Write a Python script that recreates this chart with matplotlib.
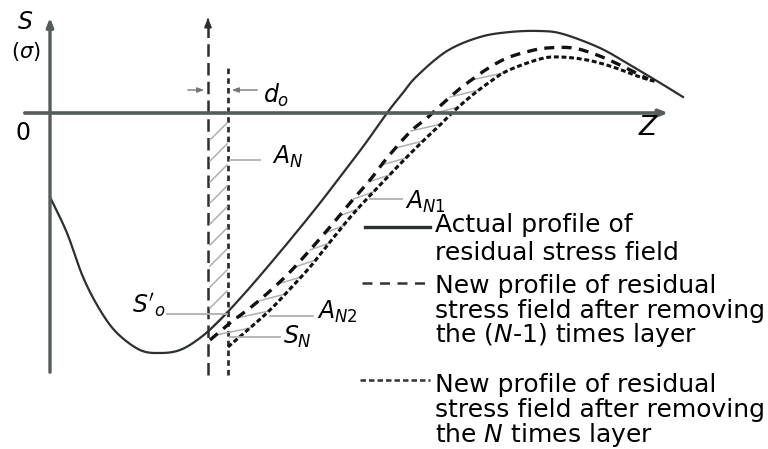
import numpy as np
import matplotlib
matplotlib.use('Agg')
import matplotlib.pyplot as plt

plt.rcParams['font.family'] = ['DejaVu Sans']
plt.rcParams['mathtext.fontset'] = 'dejavusans'

# actual profile of residual stress field (z, s)
actual_z = [0, 17, 33, 50, 67, 90, 110, 130, 150, 170, 195, 220, 245, 270, 293, 315,
            337, 352, 367, 397, 430, 460, 490, 513, 550, 580, 607, 633]
actual_s = [-84, -120, -164, -197, -220, -237, -240, -237, -225, -207, -180, -151, -121,
            -90, -60, -31, 0, 19, 37, 62, 76, 81, 82, 79, 65, 48, 32, 16]

# profile after removing the (N-1) times layer
prev_z = [160, 180, 200, 220, 240, 260, 280, 300, 320, 337, 360, 377, 390, 407, 420,
          437, 457, 480, 497, 523, 547, 570, 598]
prev_s = [-227, -210, -195, -178, -159, -137, -114, -90, -67, -45, -19, -5, 7, 22, 32,
          44, 55, 62, 65, 65, 58, 48, 34]

# profile after removing the N times layer
cur_z = [178, 200, 220, 240, 260, 280, 303, 330, 353, 373, 390, 403, 420, 437, 457,
         490, 510, 537, 563, 590, 607]
cur_s = [-234, -215, -197, -176, -154, -129, -101, -72, -48, -28, -12, 1, 16, 29, 42,
         54, 56, 53, 46, 36, 31]

legend_lines = [
    ['Actual profile of', 'residual stress field'],
    ['New profile of residual', 'stress field after removing', 'the ($N$-1) times layer'],
    ['New profile of residual', 'stress field after removing', 'the $N$ times layer'],
]


def smooth(xs, ys, n=12):
    # Catmull-Rom through the read points so the line is drawn without corners
    p = np.column_stack([xs, ys]).astype(float)
    p = np.vstack([2 * p[0] - p[1], p, 2 * p[-1] - p[-2]])
    out = []
    t = np.linspace(0, 1, n, endpoint=False)[:, None]
    for i in range(1, len(p) - 2):
        p0, p1, p2, p3 = p[i - 1], p[i], p[i + 1], p[i + 2]
        seg = 0.5 * (2 * p1 + (-p0 + p2) * t + (2 * p0 - 5 * p1 + 4 * p2 - p3) * t ** 2
                     + (-p0 + 3 * p1 - 3 * p2 + p3) * t ** 3)
        out.append(seg)
    out.append(p[-2][None, :])
    out = np.vstack(out)
    return out[:, 0], out[:, 1]


fig = plt.figure(figsize=(7.68, 4.49), dpi=100)
ax = fig.add_axes([0, 0, 1, 1])
ax.set_xlim(-50, 718)
ax.set_ylim(-336, 113)
ax.axis('off')

axis_col = '#565b5c'
curve_col = '#2b2f30'
lead_col = '#b0b0b0'
fs = 17

# axes with arrows
ax.annotate('', xy=(0, 98), xytext=(0, -262),
            arrowprops=dict(arrowstyle='-|>,head_length=0.5,head_width=0.2', color=axis_col, lw=2.4))
ax.annotate('', xy=(621, 0), xytext=(-28, 0),
            arrowprops=dict(arrowstyle='-|>,head_length=0.5,head_width=0.2', color=axis_col, lw=2.6))

# layer boundaries
ax.plot([158, 158], [-262, 94], color=curve_col, lw=1.8, dashes=(5, 2.5))
ax.annotate('', xy=(158, 98), xytext=(158, 90),
            arrowprops=dict(arrowstyle='-|>,head_length=0.5,head_width=0.2', color=curve_col, lw=1.5))
ax.plot([178, 178], [-262, 45], color=curve_col, lw=2.0, dashes=(2, 1.5))

# d_o arrows
ax.annotate('', xy=(157, 23), xytext=(135, 23),
            arrowprops=dict(arrowstyle='-|>,head_length=0.4,head_width=0.15', color='#777777', lw=1))
ax.annotate('', xy=(179, 23), xytext=(210, 23),
            arrowprops=dict(arrowstyle='-|>,head_length=0.4,head_width=0.15', color='#777777', lw=1))

# hatching in the removed layer
for top in np.arange(-10, -215, -21):
    ax.plot([160, 177], [top - 17, top], color=lead_col, lw=1.1)

# hatching between the two new profiles
az, a_s = smooth(actual_z, actual_s)
pz, ps = smooth(prev_z, prev_s)
cz, cs = smooth(cur_z, cur_s)
rp = pz <= 497
rc = cz <= 510
for lev in np.arange(-222, 50, 17):
    x1 = np.interp(lev, ps[rp], pz[rp])
    x2 = np.interp(lev + 7, cs[rc], cz[rc])
    ax.plot([x1, x2], [lev, lev + 7], color=lead_col, lw=1.1)

# curves
ax.plot(az, a_s, color=curve_col, lw=1.6)
ax.plot(pz, ps, color='#111111', lw=2.4, dashes=(3, 2.2))
ax.plot(cz, cs, color='#111111', lw=2.2, dashes=(1.6, 0.9))

# leader lines
leaders = [((180, 210), -47), ((320, 352), -86), ((220, 263), -203),
           ((180, 230), -224), ((117, 177), -201)]
for (a, b), y in leaders:
    ax.plot([a, b], [y, y], color=lead_col, lw=1.3)

# labels
ax.text(-25, 91, '$S$', fontsize=fs, ha='center', va='center')
ax.text(-24, 62, '($\\sigma$)', fontsize=fs - 2, ha='center', va='center')
ax.text(-27, -20, '0', fontsize=fs, ha='center', va='center')
ax.text(599, -15, '$Z$', fontsize=fs + 2, ha='center', va='center')
ax.text(213, 18, '$d_o$', fontsize=fs, ha='left', va='center')
ax.text(222, -44, '$A_N$', fontsize=fs, ha='left', va='center')
ax.text(355, -89, '$A_{N1}$', fontsize=fs, ha='left', va='center')
ax.text(267, -199, '$A_{N2}$', fontsize=fs, ha='left', va='center')
ax.text(233, -224, '$S_N$', fontsize=fs, ha='left', va='center')
ax.text(82, -192, "$S'_o$", fontsize=fs, ha='left', va='center')

# legend drawn by hand
ax.plot([315, 380], [-114, -114], color=curve_col, lw=2.4)
ax.plot([312, 380], [-170, -170], color='#333333', lw=1.8, dashes=(4, 3))
ax.plot([310, 380], [-267, -267], color='#333333', lw=1.8, dashes=(2.2, 1.2))

baselines = [[-119, -147], [-180, -205, -229], [-279, -304, -329]]
for lines, ys in zip(legend_lines, baselines):
    for t, y in zip(lines, ys):
        ax.text(385, y, t, fontsize=18, ha='left', va='baseline')

fig.savefig('out.png', dpi=100)
